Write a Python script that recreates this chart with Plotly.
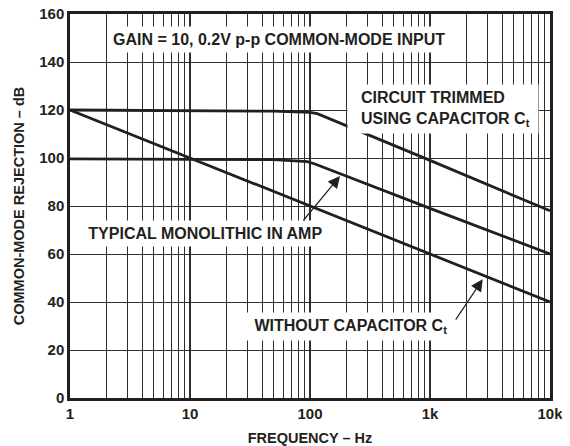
import numpy as np
import plotly.graph_objects as go

# Frequencies (Hz) and CMR (dB)
freq_trim = [1, 10, 50, 100, 115, 1000, 10000]
cmr_trim = [120, 119.8, 119.5, 119, 118.5, 99, 78]

freq_mono = [1, 10, 50, 95, 110, 1000, 10000]
cmr_mono = [99.6, 99.6, 99.3, 98.5, 97.5, 79, 60]

freq_nocap = [1, 10, 100, 1000, 10000]
cmr_nocap = [120, 100, 80, 60, 40]

x_ticks = [1, 10, 100, 1000, 10000]
x_ticktext = ["1", "10", "100", "1k", "10k"]
y_ticks = [0, 20, 40, 60, 80, 100, 120, 140, 160]

INK = "#231f20"
GRID = "#2e2e2e"
FONT = "Liberation Sans, Arial, Helvetica, sans-serif"

minor_vals = [m * 10 ** d for d in range(4) for m in range(2, 10)]

fig = go.Figure()
for fx, fy in [(freq_trim, cmr_trim), (freq_mono, cmr_mono), (freq_nocap, cmr_nocap)]:
    fig.add_trace(go.Scatter(x=fx, y=fy, mode="lines", showlegend=False,
                             line=dict(color=INK, width=2.8)))

nb = "\u00a0"
label_font = dict(family=FONT, size=16, color=INK, weight="bold")
for txt, x, y, xa in [
    ("GAIN = 10, 0.2V p-p COMMON-MODE INPUT", 1.742, 149.2, "center"),
    (nb * 2 + "CIRCUIT TRIMMED" + nb * 2 + "<br>" + nb * 2 + "USING CAPACITOR C<sub>t</sub>" + nb,
     2.308, 120.4, "left"),
    (nb * 3 + "TYPICAL MONOLITHIC IN AMP" + nb * 3, 0.0, 68.7, "left"),
    (nb + "WITHOUT CAPACITOR C<sub>t</sub>" + nb * 2, 1.458, 29.6, "left"),
]:
    fig.add_annotation(x=x, y=y, text=txt, showarrow=False, xanchor=xa,
                       yanchor="middle", align="left", bgcolor="white",
                       borderpad=4, font=label_font)

# pointer arrows
for x, y, ax, ay in [(np.log10(178), 92.5, -38, 46), (np.log10(2750), 49.5, -28, 42)]:
    fig.add_annotation(x=x, y=y, ax=ax, ay=ay, text="", showarrow=True,
                       arrowhead=2, arrowsize=2.0, arrowwidth=1.2, arrowcolor=INK)

fig.update_xaxes(
    type="log", range=[0, 4], tickvals=x_ticks, ticktext=x_ticktext,
    showgrid=True, gridcolor=GRID, gridwidth=2.2, ticks="", automargin="bottom",
    minor=dict(tickvals=minor_vals, showgrid=True, gridcolor=GRID, gridwidth=1.2, ticks=""),
    showline=True, linecolor=INK, linewidth=2.5, mirror=True, zeroline=False,
    tickfont=dict(family=FONT, size=15, color=INK, weight="bold"),
    title=dict(text="FREQUENCY – Hz", standoff=13,
               font=dict(family=FONT, size=14.5, color=INK, weight="bold")),
)
fig.update_yaxes(
    range=[0, 160], tickvals=y_ticks, showgrid=True, gridcolor=GRID, gridwidth=1.4,
    ticks="", showline=True, linecolor=INK, linewidth=2.5, mirror=True, zeroline=False,
    automargin="left", ticklabeloverflow="allow",
    tickfont=dict(family=FONT, size=15, color=INK, weight="bold"),
    title=dict(text="COMMON-MODE REJECTION – dB", standoff=12,
               font=dict(family=FONT, size=14.5, color=INK, weight="bold")),
)
# the page body adds an 8px margin, so the figure is offset to sit inside the window
fig.update_layout(
    width=562, height=460,
    margin=dict(l=62, r=20, t=6, b=70),
    paper_bgcolor="white", plot_bgcolor="white",
    showlegend=False,
)
fig.write_html("out.html", config={"displayModeBar": False})
